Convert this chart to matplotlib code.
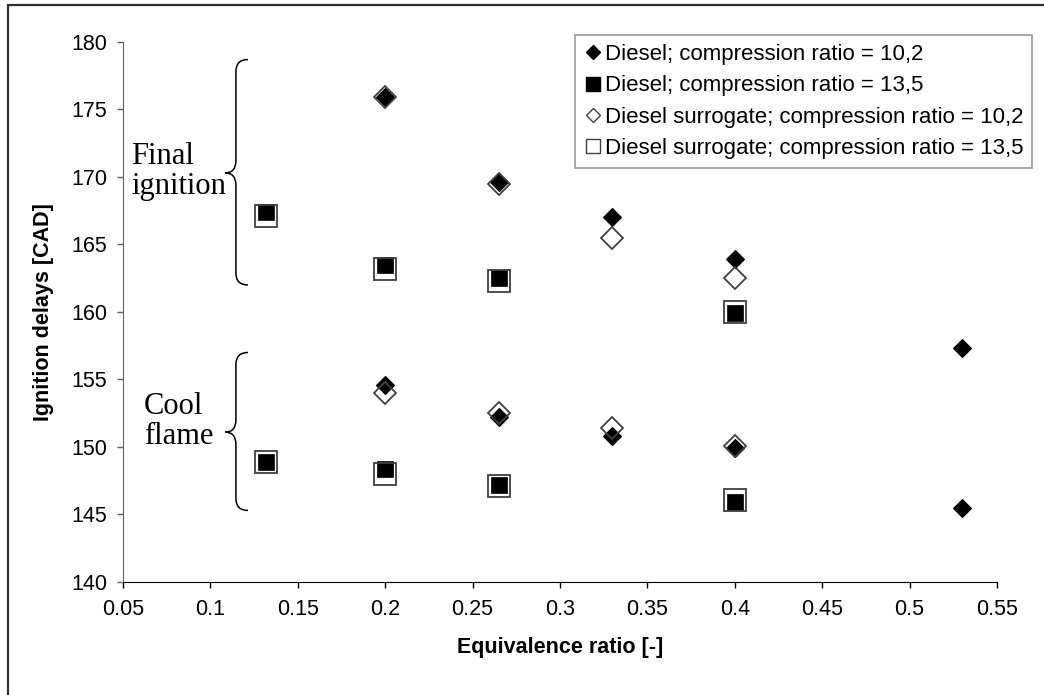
import numpy as np
import matplotlib
matplotlib.use("Agg")
from matplotlib import pyplot as plt
from matplotlib.path import Path
from matplotlib.patches import PathPatch, Rectangle
from matplotlib.lines import Line2D

plt.rcParams['font.family'] = ['Liberation Sans', 'DejaVu Sans']

# equivalence ratios
phi_d102 = [0.2, 0.265, 0.33, 0.4, 0.53]
phi_135 = [0.132, 0.2, 0.265, 0.4]
phi_s102 = [0.2, 0.265, 0.33, 0.4]

# ignition delays [CAD], final ignition and cool flame
final_d102 = [175.9, 169.6, 167.0, 163.9, 157.3]
cool_d102 = [154.6, 152.2, 150.8, 149.9, 145.5]
final_d135 = [167.4, 163.5, 162.5, 159.9]
cool_d135 = [148.9, 148.4, 147.2, 145.9]
final_s102 = [175.9, 169.5, 165.5, 162.5]
cool_s102 = [154.0, 152.5, 151.4, 150.1]
final_s135 = [167.1, 163.2, 162.3, 160.0]
cool_s135 = [148.9, 148.0, 147.1, 146.1]

labels = ['Diesel; compression ratio = 10,2',
          'Diesel; compression ratio = 13,5',
          'Diesel surrogate; compression ratio = 10,2',
          'Diesel surrogate; compression ratio = 13,5']

# brace extents (top, tip, bottom) for the two groups
brace_final = (178.7, 170.3, 162.0)
brace_cool = (157.0, 151.1, 145.3)


def brace(ax, y_top, y_tip, y_bot, x_line=0.1146, x_tip=0.1084, x_end=0.1215, r=0.9):
    verts = [(x_end, y_top), (x_line, y_top), (x_line, y_top - r),
             (x_line, y_tip + r), (x_line, y_tip), (x_tip, y_tip),
             (x_line, y_tip), (x_line, y_tip - r),
             (x_line, y_bot + r), (x_line, y_bot), (x_end, y_bot)]
    codes = [Path.MOVETO, Path.CURVE3, Path.CURVE3, Path.LINETO,
             Path.CURVE3, Path.CURVE3, Path.CURVE3, Path.CURVE3,
             Path.LINETO, Path.CURVE3, Path.CURVE3]
    ax.add_patch(PathPatch(Path(verts, codes), fc='none', ec='black', lw=1.1))


fig = plt.figure(figsize=(10.44, 6.95), dpi=100)
ax = fig.add_axes([0.1178, 0.1626, 0.8372, 0.777])

# figure frame (only top and left visible in the crop)
fig.patches.append(Rectangle((8 / 1044, -0.05), 1.05, 1.05 - 4.7 / 695,
                             transform=fig.transFigure, fill=False,
                             ec='#303030', lw=1.6))

gray = '#404040'
for y in (final_d102, cool_d102):
    ax.plot(phi_d102, y, 'D', ms=9, mfc='black', mec='black', mew=0.8, ls='none', zorder=3)
for y in (final_d135, cool_d135):
    ax.plot(phi_135, y, 's', ms=12, mfc='black', mec='black', mew=0.5, ls='none', zorder=3)
for y in (final_s102, cool_s102):
    ax.plot(phi_s102, y, 'D', ms=11.5, mfc='none', mec=gray, mew=1.3, ls='none', zorder=4)
for y in (final_s135, cool_s135):
    ax.plot(phi_135, y, 's', ms=15.5, mfc='none', mec=gray, mew=1.3, ls='none', zorder=4)

brace(ax, *brace_final)
brace(ax, *brace_cool)
ax.text(0.0546, 170.4, 'Final\nignition', family='Liberation Serif', fontsize=22,
        ha='left', va='center', linespacing=1.05)
ax.text(0.062, 151.9, 'Cool\nflame', family='Liberation Serif', fontsize=22,
        ha='left', va='center', linespacing=1.05)

ax.set_xlim(0.05, 0.55)
ax.set_ylim(140, 180)
xt = np.arange(0.05, 0.56, 0.05)
ax.set_xticks(xt)
ax.set_xticklabels(['%g' % round(v, 2) for v in xt])
ax.set_yticks(np.arange(140, 181, 5))
ax.tick_params(axis='x', direction='out', length=4.5, width=1, pad=8, labelsize=15.5)
ax.tick_params(axis='y', direction='out', length=4.5, width=1, pad=7, labelsize=15.5,
               color='#606060')
ax.spines['top'].set_visible(False)
ax.spines['right'].set_visible(False)
ax.spines['left'].set_color('#606060')
ax.spines['bottom'].set_color('black')
ax.set_xlabel('Equivalence ratio [-]', fontsize=15.5, fontweight='bold', labelpad=12)
ax.set_ylabel('Ignition delays [CAD]', fontsize=15.5, fontweight='bold', labelpad=12)

handles = [
    Line2D([], [], marker='D', ls='none', ms=7.5, mfc='black', mec='black'),
    Line2D([], [], marker='s', ls='none', ms=9.5, mfc='black', mec='black'),
    Line2D([], [], marker='D', ls='none', ms=7.5, mfc='none', mec=gray, mew=1),
    Line2D([], [], marker='s', ls='none', ms=9.5, mfc='none', mec=gray, mew=1),
]
leg = fig.legend(handles, labels, loc='upper left', bbox_to_anchor=(575 / 1044, 1 - 35 / 695),
                 fontsize=16, frameon=True, fancybox=False, borderaxespad=0,
                 handlelength=0.8, handletextpad=0.15, labelspacing=0.47,
                 borderpad=0.4)
leg.get_frame().set_edgecolor('#808080')
leg.get_frame().set_linewidth(1.2)

plt.savefig('out.png', dpi=100)
